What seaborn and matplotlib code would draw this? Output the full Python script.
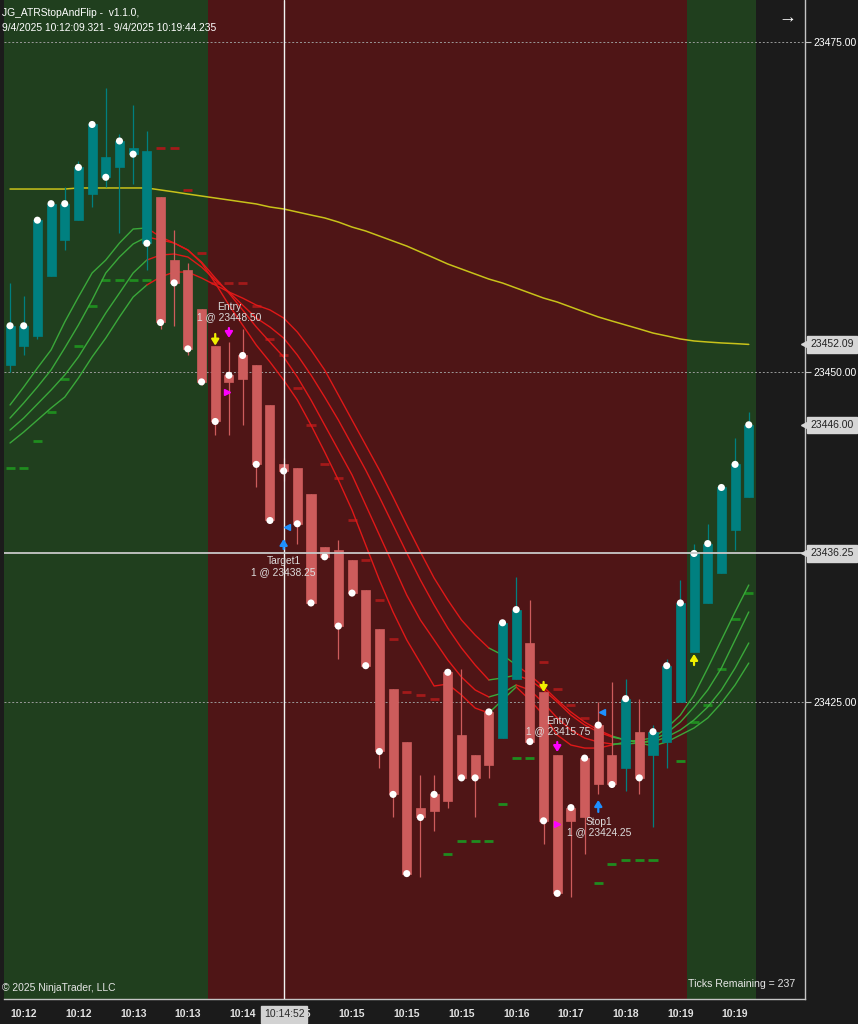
import numpy as np
import pandas as pd
import seaborn as sns
import matplotlib.pyplot as plt
from matplotlib.transforms import blended_transform_factory

# ---- bar data (x = bar number on the chart) ----
opens = [23450.50, 23452.00, 23452.75, 23457.25, 23460.00, 23461.50, 23463.50, 23466.25, 23465.50, 23467.00,
         23466.75, 23463.25, 23458.50, 23457.75, 23454.75, 23452.00, 23449.25, 23449.50, 23450.50, 23447.50,
         23443.00, 23442.75, 23440.75, 23436.75, 23436.50, 23435.75, 23433.50, 23430.50, 23426.00, 23422.00,
         23417.00, 23416.75, 23417.50, 23422.50, 23421.00, 23420.25, 23422.25, 23426.75, 23429.50, 23425.75,
         23421.00, 23416.00, 23416.25, 23418.75, 23421.00, 23420.00, 23422.75, 23421.00, 23422.00, 23425.00,
         23428.75, 23432.50, 23434.75, 23438.00, 23440.50]
highs = [23456.75, 23455.75, 23461.75, 23462.75, 23464.00, 23466.00, 23469.00, 23471.50, 23468.00, 23470.25,
         23468.25, 23463.25, 23460.75, 23458.25, 23454.75, 23452.00, 23452.25, 23453.25, 23450.50, 23447.50,
         23443.50, 23442.75, 23440.75, 23436.75, 23437.25, 23435.75, 23433.50, 23430.50, 23426.00, 23422.00,
         23419.50, 23419.50, 23427.25, 23427.50, 23421.00, 23424.25, 23431.00, 23434.50, 23432.75, 23425.75,
         23421.00, 23417.00, 23420.75, 23425.00, 23426.50, 23426.75, 23425.25, 23423.25, 23428.25, 23434.25,
         23437.00, 23438.50, 23441.25, 23445.00, 23447.00]
lows = [23450.00, 23451.25, 23452.50, 23457.25, 23459.25, 23461.50, 23462.50, 23464.00, 23460.50, 23464.25,
        23457.75, 23453.25, 23453.50, 23451.25, 23449.00, 23445.25, 23445.25, 23446.00, 23441.25, 23438.75,
        23441.75, 23437.00, 23432.50, 23436.00, 23428.25, 23433.25, 23427.75, 23420.00, 23416.25, 23412.00,
        23411.75, 23415.25, 23417.00, 23419.25, 23416.25, 23419.25, 23422.25, 23426.75, 23422.00, 23414.25,
        23410.50, 23410.25, 23413.50, 23418.00, 23418.75, 23418.25, 23418.00, 23415.50, 23420.00, 23425.00,
        23428.75, 23432.50, 23434.75, 23436.50, 23440.50]
closes = [23453.50, 23453.50, 23461.50, 23462.75, 23462.75, 23465.50, 23468.75, 23464.75, 23467.50, 23466.50,
          23459.75, 23453.75, 23456.75, 23451.75, 23449.25, 23446.25, 23449.75, 23451.25, 23443.00, 23438.75,
          23442.50, 23438.50, 23432.50, 23436.00, 23430.75, 23433.25, 23427.75, 23421.25, 23418.00, 23412.00,
          23416.25, 23418.00, 23427.25, 23419.25, 23419.25, 23424.25, 23431.00, 23432.00, 23422.00, 23416.00,
          23410.50, 23417.00, 23420.75, 23423.25, 23418.75, 23425.25, 23419.25, 23422.75, 23427.75, 23432.50,
          23436.25, 23437.00, 23441.25, 23443.00, 23446.00]
# bar colour flag from the indicator (1 = teal, 0 = red)
bar_up = [1] * 11 + [0] * 25 + [1] * 2 + [0] * 7 + [1] + [0] + [1] * 8
# background regime (1 = long / green, 0 = short / red)
regime = [1] * 15 + [0] * 35 + [1] * 5
# ribbon colour flag per bar
rib_up = [1] * 11 + [0] * 25 + [1] * 2 + [0] * 7 + [1] * 10

yellow_ma = [23463.86, 23463.86, 23463.86, 23463.86, 23463.86, 23463.94, 23463.94, 23463.94, 23463.94, 23463.94,
             23463.94, 23463.79, 23463.64, 23463.48, 23463.33, 23463.18, 23463.03, 23462.88, 23462.73, 23462.50,
             23462.35, 23462.12, 23461.89, 23461.67, 23461.36, 23460.98, 23460.68, 23460.30, 23459.92, 23459.54,
             23459.09, 23458.64, 23458.18, 23457.80, 23457.42, 23457.04, 23456.74, 23456.36, 23455.98, 23455.60,
             23455.30, 23454.92, 23454.54, 23454.17, 23453.86, 23453.56, 23453.26, 23452.95, 23452.73, 23452.50,
             23452.35, 23452.27, 23452.20, 23452.15, 23452.09]
ribbon_1 = [23447.50, 23448.86, 23450.30, 23451.67, 23453.79, 23455.68, 23457.50, 23458.48, 23459.77, 23460.83,
            23460.91, 23460.23, 23459.77, 23459.24, 23458.26, 23456.74, 23455.07, 23453.56, 23452.04, 23450.76,
            23449.39, 23447.88, 23445.98, 23443.94, 23441.82, 23439.54, 23436.89, 23434.24, 23431.82, 23429.70,
            23427.95, 23426.21, 23426.36, 23425.53, 23424.54, 23424.17, 23425.15, 23426.14, 23425.15, 23424.01,
            23422.50, 23421.74, 23421.51, 23421.51, 23421.74, 23421.97, 23422.12, 23422.27, 23423.03, 23424.01,
            23425.53, 23427.57, 23429.70, 23431.82, 23433.86]
ribbon_2 = [23446.51, 23447.65, 23448.86, 23450.15, 23451.82, 23453.56, 23455.45, 23457.50, 23458.71, 23459.70,
            23460.23, 23460.00, 23459.77, 23459.24, 23458.33, 23457.12, 23455.98, 23454.70, 23453.41, 23452.27,
            23451.14, 23449.62, 23447.88, 23445.98, 23444.09, 23442.20, 23439.92, 23437.65, 23435.38, 23433.10,
            23431.21, 23429.70, 23428.18, 23426.89, 23425.91, 23425.38, 23425.68, 23426.29, 23425.91, 23424.92,
            23423.79, 23422.88, 23422.27, 23421.97, 23421.82, 23421.82, 23421.89, 23422.12, 23422.65, 23423.48,
            23424.62, 23425.91, 23427.57, 23429.70, 23431.82]
ribbon_3 = [23445.60, 23446.51, 23447.57, 23448.63, 23449.77, 23451.14, 23452.80, 23454.47, 23455.98, 23457.50,
            23458.48, 23458.86, 23458.94, 23458.71, 23457.95, 23456.97, 23456.06, 23455.07, 23454.09, 23453.41,
            23452.57, 23451.29, 23449.77, 23448.10, 23446.36, 23444.47, 23442.57, 23440.53, 23438.41, 23436.29,
            23434.24, 23432.35, 23430.60, 23429.09, 23427.80, 23426.67, 23426.82, 23427.04, 23426.67, 23425.91,
            23425.00, 23424.01, 23423.26, 23422.73, 23422.35, 23422.12, 23421.97, 23421.97, 23422.35, 23422.88,
            23423.64, 23424.62, 23425.91, 23427.57, 23429.47]
ribbon_4 = [23444.62, 23445.45, 23446.36, 23447.27, 23448.10, 23449.54, 23451.14, 23452.57, 23454.17, 23455.68,
            23456.59, 23457.20, 23457.57, 23457.57, 23457.12, 23456.59, 23456.06, 23455.60, 23455.07, 23454.70,
            23454.09, 23453.03, 23451.67, 23450.15, 23448.26, 23446.36, 23444.47, 23442.57, 23440.53, 23438.41,
            23436.36, 23434.39, 23432.73, 23431.21, 23430.07, 23429.09, 23428.56, 23427.80, 23427.04, 23426.14,
            23425.15, 23424.24, 23423.48, 23422.88, 23422.42, 23422.12, 23421.89, 23421.67, 23421.97, 23422.50,
            23423.03, 23423.79, 23424.92, 23426.29, 23427.95]

nan = np.nan
short_stop = [nan] * 11 + [23467.00, 23467.00, 23463.75, 23459.00, 23456.75, 23456.75, 23456.75, 23455.00, 23452.50,
                           23451.25, 23448.75, 23446.00, 23443.00, 23442.00, 23438.75, 23435.75, 23432.75, 23429.75,
                           23425.75, 23425.50, 23425.25] + [nan] * 7 + [23428.00, 23426.00, 23424.75, 23423.75] + [nan] * 12
long_stop = [23442.75, 23442.75, 23444.75, 23447.00, 23449.50, 23452.00, 23455.00, 23457.00, 23457.00, 23457.00,
             23457.00] + [nan] * 21 + [23413.50, 23414.50, 23414.50, 23414.50, 23417.25, 23420.75, 23420.75] + \
            [nan] * 4 + [23411.25, 23412.75, 23413.00, 23413.00, 23413.00, nan, 23420.50, 23423.50, 23424.75,
                         23427.50, 23431.25, 23433.25]

# signal arrows: bar, tip price, tail price, colour
arrow_bar = [15, 16, 39, 40, 20, 43, 50]
arrow_tip = [23452.00, 23452.58, 23425.76, 23421.21, 23437.35, 23417.57, 23428.64]
arrow_tail = [23452.88, 23453.33, 23426.52, 23421.97, 23436.59, 23416.67, 23427.80]
arrow_col = ['#f0f000', '#ff00ff', '#f0f000', '#ff00ff', '#1e90ff', '#1e90ff', '#f0f000']

# executions: label, label centre, fill price and marker
exec_label = ['Entry\n1 @ 23448.50', 'Target1\n1 @ 23438.25', 'Entry\n1 @ 23415.75', 'Stop1\n1 @ 23424.25']
exec_label_x = [16.0, 20.0, 40.05, 43.05]
exec_label_y = [23454.55, 23435.25, 23423.20, 23415.55]
fill_x = [15.85, 20.25, 40.0, 43.25]
fill_price = [23448.50, 23438.25, 23415.75, 23424.25]
fill_marker = ['>', '<', '>', '<']
fill_col = ['#ff00ff', '#1e90ff', '#ff00ff', '#1e90ff']

tick_idx = [1, 5, 9, 13, 17, 21, 25, 29, 33, 37, 41, 45, 49, 53]
tick_labels = ['10:12', '10:12', '10:13', '10:13', '10:14', '10:15', '10:15', '10:15', '10:15',
               '10:16', '10:17', '10:18', '10:19', '10:19']
price_ticks = [23425, 23450, 23475]
marker_labels = [23452.09, 23446.00, 23436.25]

# ---- style ----
sns.set_theme(style='dark')
plt.rcParams['font.family'] = ['Liberation Sans', 'DejaVu Sans']

bg = '#1b1b1b'
green_bg = '#203f1e'
red_bg = '#4f1516'
teal = '#008080'
candle_red = '#cd5c5c'
rib_green = '#3aa83a'
rib_red = '#e01818'

fig = plt.figure(figsize=(8.58, 10.24), dpi=100, facecolor=bg)
ax = fig.add_axes([4 / 858, 25 / 1024, 801 / 858, 999 / 1024])
ax.set_facecolor(bg)

n = len(opens)
idx = np.arange(n)

# background regime spans
start = 0
for i in range(1, n + 1):
    if i == n or regime[i] != regime[start]:
        ax.axvspan(start - 0.5, i - 0.5, color=green_bg if regime[start] else red_bg, lw=0, zorder=0)
        start = i

# grid lines
for p in price_ticks:
    ax.axhline(p, color='#9a9a9a', lw=0.7, ls=(0, (2, 2)), zorder=1)

# moving average
sns.lineplot(x=idx, y=yellow_ma, color='#c8c21a', lw=1.1, ax=ax, zorder=3)

# ribbon, coloured per segment
rows = []
for name, vals in [('r1', ribbon_1), ('r2', ribbon_2), ('r3', ribbon_3), ('r4', ribbon_4)]:
    run = 0
    for i in range(1, n):
        trend = 'up' if rib_up[i] else 'down'
        if i == 1 or rib_up[i] != rib_up[i - 1]:
            run += 1
            rows.append(dict(run=f'{name}_{run}', x=i - 1, y=vals[i - 1], trend=trend))
        rows.append(dict(run=f'{name}_{run}', x=i, y=vals[i], trend=trend))
rib = pd.DataFrame(rows)
sns.lineplot(data=rib, x='x', y='y', hue='trend', units='run', estimator=None, sort=False,
             palette={'up': rib_green, 'down': rib_red}, lw=1.0, legend=False, ax=ax, zorder=3)

# stop dashes
ss = np.array(short_stop)
ls_ = np.array(long_stop)
ok = ~np.isnan(ss)
ax.hlines(ss[ok], idx[ok] - 0.33, idx[ok] + 0.33, color='#a31a1a', lw=2.0, zorder=2)
ok = ~np.isnan(ls_)
ax.hlines(ls_[ok], idx[ok] - 0.33, idx[ok] + 0.33, color='#1f8c1f', lw=2.0, zorder=2)

# candles
o = np.array(opens)
c = np.array(closes)
cols = [teal if u else candle_red for u in bar_up]
ax.vlines(idx, lows, highs, colors=cols, lw=0.9, zorder=4)
body = np.maximum(np.abs(c - o), 0.12)
ax.bar(idx, body, bottom=np.minimum(o, c), width=0.66, color=cols, edgecolor=cols, lw=0.5, zorder=5)
sns.scatterplot(x=idx, y=closes, color='white', s=26, edgecolor='none', ax=ax, zorder=6)

# crosshair
ax.axvline(20.03, color='#f2f2f2', lw=1.0, zorder=7)
ax.axhline(23436.25, color='#c8c8c8', lw=1.3, zorder=7)

# signal arrows
for b, tip, tail, col in zip(arrow_bar, arrow_tip, arrow_tail, arrow_col):
    ax.annotate('', xy=(b, tip), xytext=(b, tail),
                arrowprops=dict(arrowstyle='-|>,head_width=0.22,head_length=0.35', color=col, lw=1.6,
                                shrinkA=0, shrinkB=0, mutation_scale=10), zorder=8)

# executions
for lab, lx, ly in zip(exec_label, exec_label_x, exec_label_y):
    ax.text(lx, ly, lab, ha='center', va='center', fontsize=7.4, color='#dcdcdc', linespacing=1.05, zorder=9)
for fx, fp, m, col in zip(fill_x, fill_price, fill_marker, fill_col):
    ax.plot([fx], [fp], marker=m, ms=4.5, color=col, ls='none', zorder=9)

ax.set_xlim(-0.44, 58.11)
ax.set_ylim(23402.50, 23478.18)

# axes styling
for s in ['top', 'left']:
    ax.spines[s].set_visible(False)
for s in ['right', 'bottom']:
    ax.spines[s].set_color('#c4c4c4')
    ax.spines[s].set_linewidth(1.0)
ax.set_xlabel('')
ax.set_ylabel('')
ax.yaxis.tick_right()
ax.set_yticks(price_ticks, [f'{p:.2f}' for p in price_ticks])
ax.set_xticks(tick_idx, tick_labels)
ax.tick_params(axis='y', colors='#c4c4c4', labelcolor='white', labelsize=7.5, length=4, width=0.8, pad=2)
ax.tick_params(axis='x', colors='#c4c4c4', labelcolor='#e2e2e2', labelsize=7.5, length=3, width=0.8, pad=4)
for t in ax.get_xticklabels():
    t.set_fontweight('bold')
ax.grid(False)

# price markers on the right axis
trans = blended_transform_factory(ax.transAxes, ax.transData)
for v in marker_labels:
    ax.text(1.0065, v, f'{v:.2f}', transform=trans, ha='left', va='center', fontsize=7.5, color='#222222',
            bbox=dict(boxstyle='square,pad=0.3', fc='#d6d6d6', ec='#d6d6d6'), clip_on=False, zorder=12)
    ax.plot([1.0], [v], marker='<', ms=6, color='#d6d6d6', transform=trans, clip_on=False, zorder=12)

# crosshair time box
tb = blended_transform_factory(ax.transData, ax.transAxes)
ax.text(20.03, -0.0155, '10:14:52', transform=tb, ha='center', va='center', fontsize=7.5, color='#2a2a2a',
        bbox=dict(boxstyle='square,pad=0.3', fc='#d2d2d2', ec='#d2d2d2'), clip_on=False, zorder=12)

# header and footer text
fig.text(2 / 858, 1 - 13 / 1024, 'JG_ATRStopAndFlip -  v1.1.0,', color='white', fontsize=7.4, va='center')
fig.text(2 / 858, 1 - 28 / 1024, '9/4/2025 10:12:09.321 - 9/4/2025 10:19:44.235', color='white',
         fontsize=7.4, va='center')
fig.text(787 / 858, 1 - 18 / 1024, '→', color='white', fontsize=13, ha='center', va='center')
fig.text(2 / 858, 1 - 988 / 1024, '© 2025 NinjaTrader, LLC', color='#e6e6e6', fontsize=7.4, va='center')
fig.text(795 / 858, 1 - 984 / 1024, 'Ticks Remaining = 237', color='#e6e6e6', fontsize=7.6,
         ha='right', va='center')

fig.savefig('out.png', dpi=100, facecolor=fig.get_facecolor())
plt.close(fig)
